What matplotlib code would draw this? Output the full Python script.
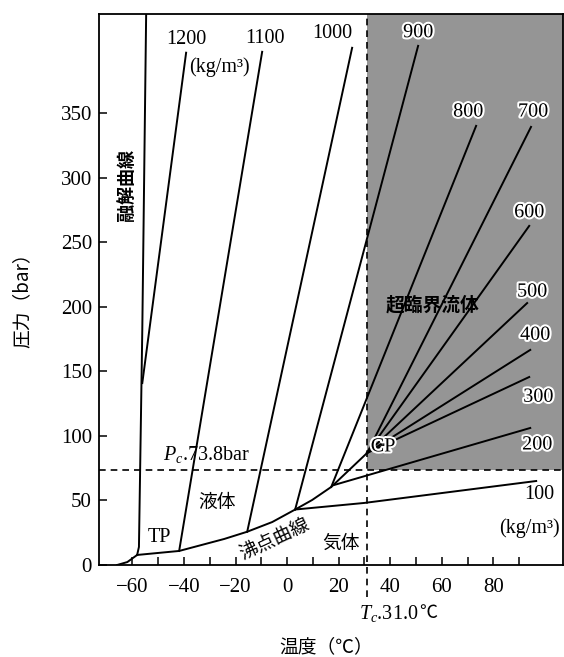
import matplotlib
matplotlib.use("Agg")
import matplotlib.pyplot as plt
import matplotlib.patheffects as pe

plt.rcParams['font.family'] = ['Liberation Serif', 'Noto Sans CJK JP']
plt.rcParams['mathtext.fontset'] = 'custom'
plt.rcParams['mathtext.rm'] = 'Liberation Serif'
plt.rcParams['mathtext.it'] = 'Liberation Serif:italic'

# 臨界点
Tc, Pc = 31.0, 73.8

# 昇華曲線・融解曲線・沸点曲線 (温度 ℃, 圧力 bar)
sub_T = [-66.0, -62.0, -58.2]
sub_P = [0.0, 2.3, 7.8]
melt_T = [-58.2, -57.5, -56.2, -54.7]
melt_P = [7.8, 14.0, 182.0, 427.0]
boil_T = [-58.2, -41.9, -24.4, -15.5, -5.8, 3.1, 9.7, 17.1, 31.0]
boil_P = [7.8, 10.9, 20.2, 25.8, 33.3, 43.0, 50.4, 60.5, 86.8]

# 等密度線 (kg/m3)
dens = ['1200', '1100', '1000', '900', '800', '700', '600', '500', '400', '300', '200', '100']
iso_T = [[-56.2, -39.2], [-41.9, -9.7], [-15.5, 25.2], [3.1, 50.8], [17.1, 73.3],
         [31.0, 94.6], [31.0, 93.9], [31.0, 93.1], [31.0, 94.3], [31.0, 93.9],
         [18.2, 94.3], [3.1, 29.9, 96.6]]
iso_P = [[141.0, 397.0], [10.9, 397.7], [25.8, 400.8], [43.0, 402.3], [60.5, 340.3],
         [86.8, 339.5], [86.8, 262.8], [86.8, 203.0], [86.8, 166.7], [86.8, 145.7],
         [62.0, 106.2], [43.0, 48.1, 65.1]]

x_major = list(range(-60, 81, 20))
x_minor = list(range(-50, 91, 20))
y_ticks = list(range(0, 351, 50))

fig = plt.figure(figsize=(5.64, 6.57), dpi=100)
ax = fig.add_axes([0.1755, 0.140, 0.8227, 0.8387])
ax.set_xlim(-73, 107)
ax.set_ylim(0, 427)

# 超臨界領域
ax.fill_between([Tc, 107], Pc, 427, color='#959595', lw=0, zorder=0)

lw = 1.4
ax.plot(sub_T, sub_P, color='black', lw=lw)
ax.plot(melt_T, melt_P, color='black', lw=lw)
ax.plot(boil_T, boil_P, color='black', lw=lw)
for t, p in zip(iso_T, iso_P):
    ax.plot(t, p, color='black', lw=lw)

dash = (0, (4, 3))
ax.axhline(Pc, color='black', lw=1.2, ls=dash)
ax.plot([Tc, Tc], [-25, 427], color='black', lw=1.2, ls=dash, clip_on=False)

halo = [pe.withStroke(linewidth=3, foreground='white')]
fs = 14.5
ax.text(-39.2, 407, '1200', ha='center', va='center', fontsize=fs)
ax.text(-26.4, 386, '(kg/m³)', ha='center', va='center', fontsize=fs)
ax.text(-8.5, 408, '1100', ha='center', va='center', fontsize=fs)
ax.text(17.5, 411.5, '1000', ha='center', va='center', fontsize=fs)
for x, y, s in [(50.8, 412.5, '900'), (70.2, 351, '800'), (95.4, 351, '700'),
                (93.9, 273, '600'), (95.0, 211.5, '500'), (96.2, 178, '400'),
                (97.4, 130, '300'), (97.0, 93, '200')]:
    ax.text(x, y, s, ha='center', va='center', fontsize=fs, path_effects=halo)
ax.text(97.8, 54.3, '100', ha='center', va='center', fontsize=fs)
ax.text(93.9, 28.7, '(kg/m³)', ha='center', va='center', fontsize=fs)

ax.text(37.2, 91.5, 'CP', ha='center', va='center', fontsize=fs, path_effects=halo)
ax.text(56.2, 201.5, '超臨界流体', ha='center', va='center', fontsize=13.5,
        family='Noto Sans CJK JP', weight='bold')
ax.text(-31.4, 85.5, r'$P_c$.73.8bar', ha='center', va='center', fontsize=fs)
ax.text(-27.2, 48.8, '液体', ha='center', va='center', fontsize=13.5, family='Noto Sans CJK JP')
ax.text(-49.7, 21.0, 'TP', ha='center', va='center', fontsize=fs)
ax.text(-5.0, 20.2, '沸点曲線', ha='center', va='center', fontsize=13.5,
        family='Noto Sans CJK JP', rotation=25, rotation_mode='anchor')
ax.text(20.9, 17.0, '気体', ha='center', va='center', fontsize=13.5, family='Noto Sans CJK JP')
ax.text(-62.0, 294.6, '融解曲線', ha='center', va='center', fontsize=13,
        family='Noto Sans CJK JP', weight='bold', rotation=90)

tc = ax.text(28.0, -37.5, r'$T_c$.31.0', ha='left', va='center', fontsize=fs, clip_on=False)
ax.annotate('℃', xy=(1, 0.5), xycoords=tc, ha='left', va='center', fontsize=13,
            family='Noto Sans CJK JP', annotation_clip=False)

fig.text(326 / 564, 1 - 647 / 657, '温度（℃）', ha='center', va='center', fontsize=13.5,
         family='Noto Sans CJK JP')
fig.text(22 / 564, 1 - 296 / 657, '圧力（bar）', ha='center', va='center', fontsize=13.5,
         family='Noto Sans CJK JP', rotation=90)

ax.set_xticks(x_major)
ax.set_xticklabels([str(v).replace('-', '−') for v in x_major])
ax.set_xticks(x_minor, minor=True)
ax.set_yticks(y_ticks)
ax.tick_params(which='both', direction='in', length=6, width=1.1, labelsize=15)
ax.tick_params(axis='x', pad=9)
ax.tick_params(axis='y', pad=5)
for s in ax.spines.values():
    s.set_linewidth(1.3)

fig.savefig('out.png', dpi=100)
